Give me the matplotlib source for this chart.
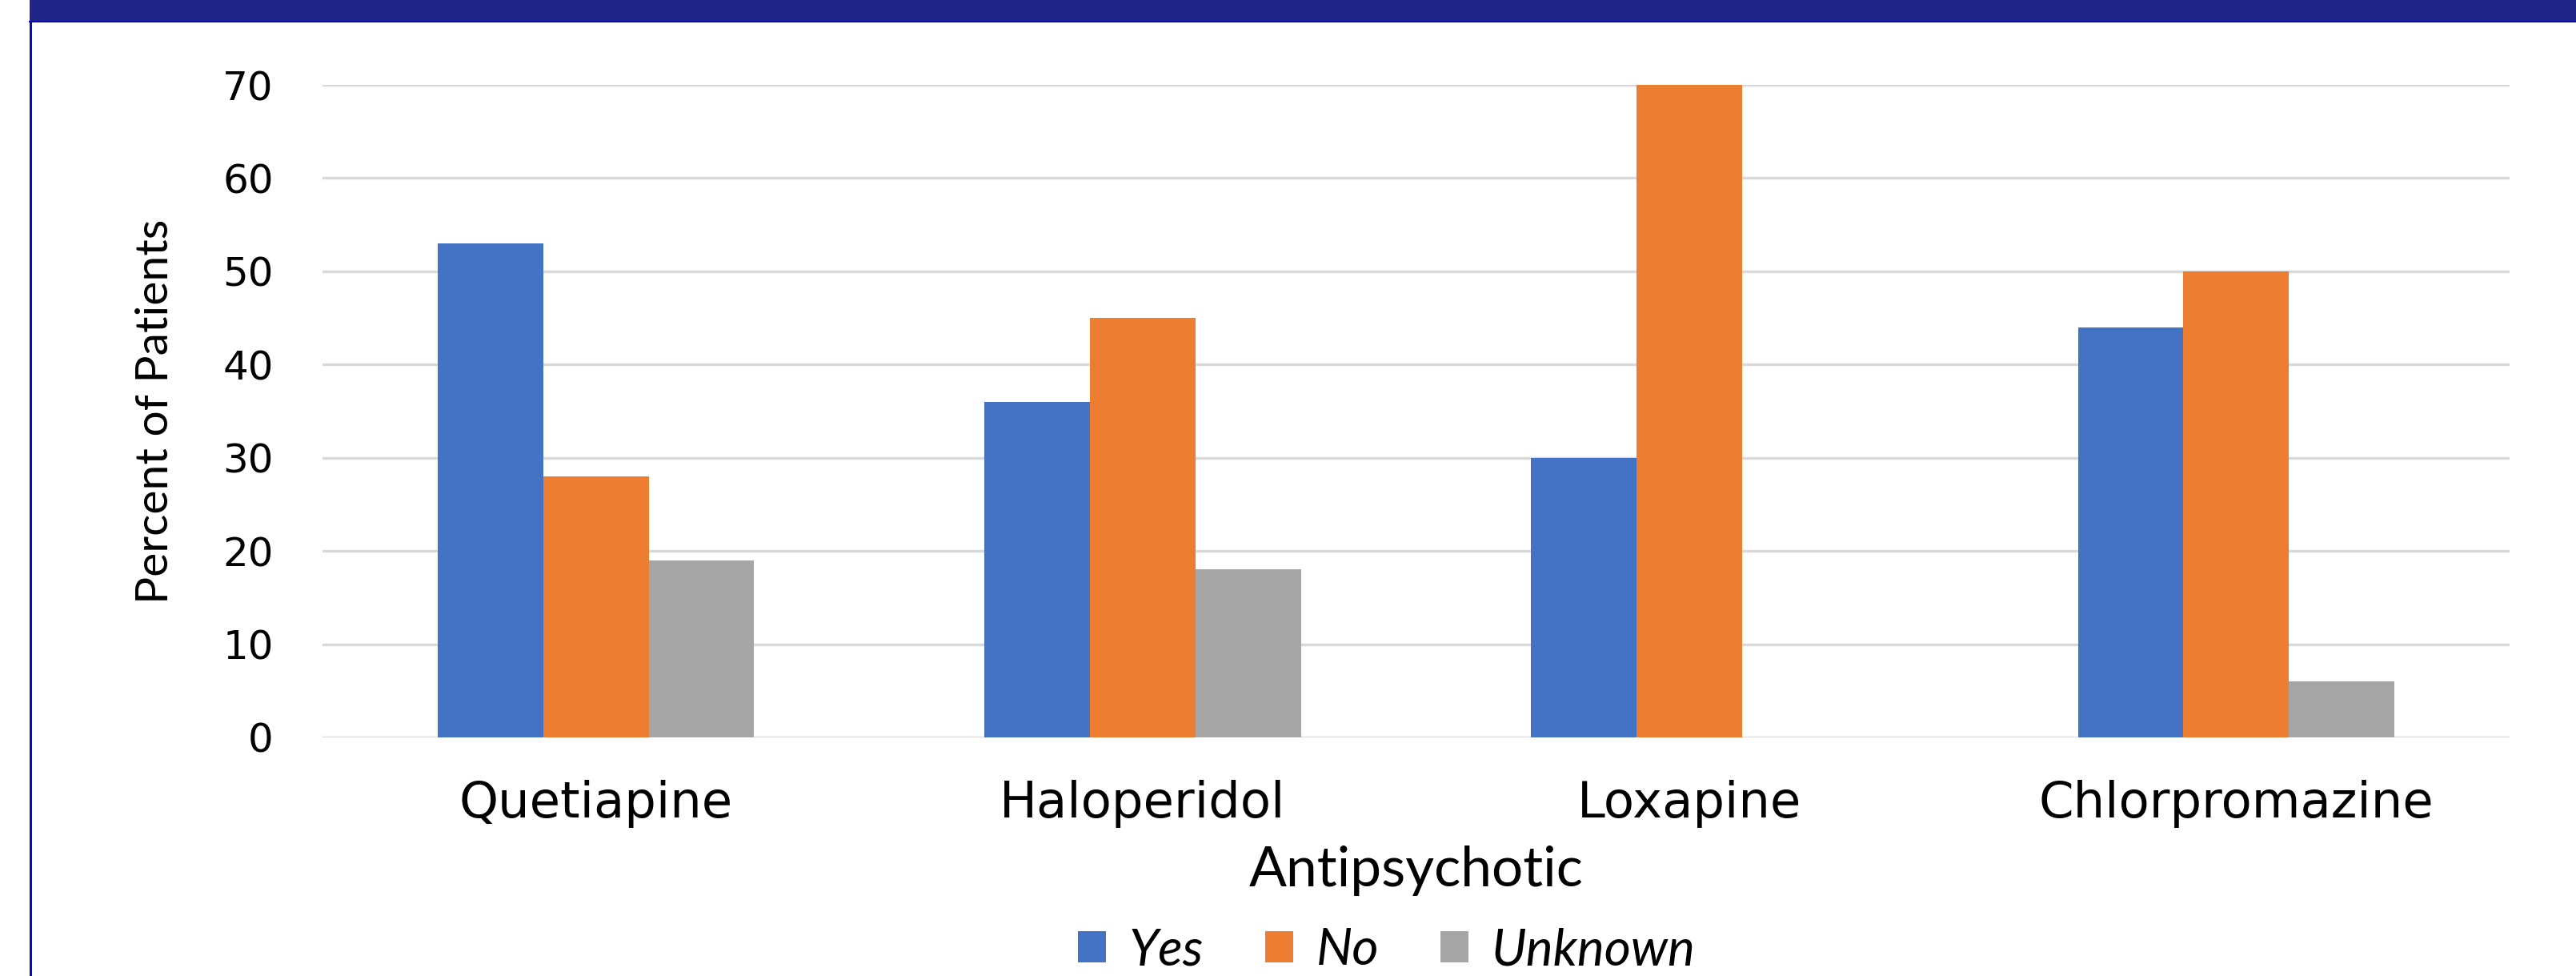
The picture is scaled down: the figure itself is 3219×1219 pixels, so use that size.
import matplotlib
matplotlib.use("Agg")
import matplotlib.pyplot as plt
import numpy as np
from matplotlib.patches import Rectangle
from matplotlib.lines import Line2D

# Data
categories = ["Quetiapine", "Haloperidol", "Loxapine", "Chlorpromazine"]
series_names = ["Yes", "No", "Unknown"]
yes_values = [53, 36, 30, 44]
no_values = [28, 45, 70, 50]
unknown_values = [19, 18, 0, 6]
y_ticks = [0, 10, 20, 30, 40, 50, 60, 70]

colors = ["#4472C4", "#ED7D31", "#A5A5A5"]

W, H, DPI = 3219, 1219, 100
fig = plt.figure(figsize=(W / DPI, H / DPI), dpi=DPI)
fig.patch.set_facecolor("white")

# Header band and left frame line
fig.add_artist(Rectangle((37 / W, 1 - 27 / H), 1 - 37 / W, 27 / H,
                         transform=fig.transFigure, facecolor="#21258A",
                         edgecolor="none", zorder=5))
fig.add_artist(Line2D([37 / W, 1], [1 - 27 / H, 1 - 27 / H],
                      transform=fig.transFigure, color="#0A0AB0", lw=1.5, zorder=6))
fig.add_artist(Line2D([38 / W, 38 / W], [0, 1 - 27 / H],
                      transform=fig.transFigure, color="#0A0AB0", lw=2.2, zorder=6))

left, right = 403 / W, 3136 / W
bottom, top = 1 - 921 / H, 1 - 106 / H
ax = fig.add_axes([left, bottom, right - left, top - bottom])

x = np.arange(len(categories))
bw = 0.193
series = [yes_values, no_values, unknown_values]
for i, (name, vals, c) in enumerate(zip(series_names, series, colors)):
    ax.bar(x + (i - 1) * bw, vals, width=bw, color=c, label=name, zorder=3,
           linewidth=0)

ax.set_xlim(-0.5, len(categories) - 0.5)
ax.set_ylim(0, 70)
ax.set_yticks(y_ticks)
ax.set_yticklabels([str(v) for v in y_ticks], fontsize=36, family="DejaVu Sans")
ax.set_xticks(x)
ax.set_xticklabels(categories, fontsize=45, family="DejaVu Sans")
ax.tick_params(axis="both", length=0)
ax.tick_params(axis="y", pad=44)
ax.tick_params(axis="x", pad=38)

ax.yaxis.grid(True, color="#D9D9D9", linewidth=2.4, zorder=0)
ax.set_axisbelow(True)
for s in ax.spines.values():
    s.set_visible(False)

ax.set_ylabel("Percent of Patients", fontsize=41,
              family=["Liberation Sans Narrow", "Lato", "DejaVu Sans"], labelpad=42)
ax.set_xlabel("Antipsychotic", fontsize=50, family=["Lato", "DejaVu Sans"],
              labelpad=16)

fig.legend(loc="center", bbox_to_anchor=(1733 / W, 1 - 1187 / H), ncol=3,
           frameon=False, prop={"family": "Lato", "style": "italic", "size": 46},
           handlelength=0.55, handleheight=0.55, handletextpad=0.45,
           columnspacing=1.2)

fig.savefig("out.png", dpi=DPI, facecolor="white")
